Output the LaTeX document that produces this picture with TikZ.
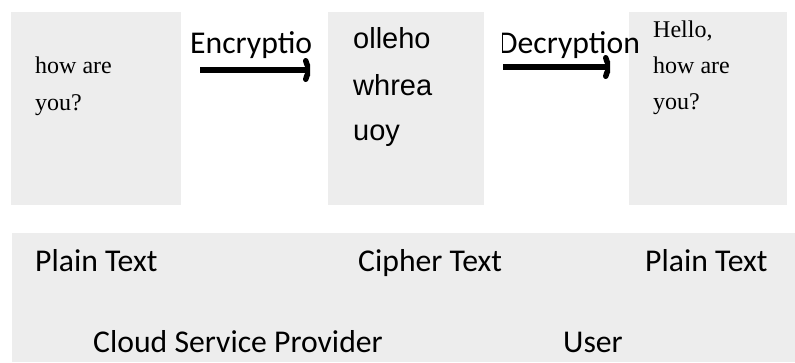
\documentclass[tikz,border=0pt]{standalone}
\usepackage{fontspec}
\setmainfont{Liberation Serif}
\newfontfamily\calfont{Carlito}
\newfontfamily\arialfont{Liberation Sans}
\usetikzlibrary{arrows.meta}
\definecolor{boxgray}{RGB}{237,237,237}

\begin{document}
\begin{tikzpicture}[x=1pt, y=-1pt,
    txt/.style={anchor=base west, inner sep=0pt},
    serifline/.style={txt, font=\fontsize{24}{24}\selectfont},
    cipherline/.style={txt, font=\arialfont\fontsize{29}{29}\selectfont},
    sanslabel/.style={txt, font=\calfont\fontsize{31.7}{31.7}\selectfont},
    flow/.style={line width=5.5pt, -{To[round,length=12pt,width=24pt]}}]
    \useasboundingbox (0,0) rectangle (795,362);

    % boxes
    \fill[boxgray] (11,12) rectangle (181,205);
    \fill[boxgray] (328,12) rectangle (484,205);
    \fill[boxgray] (629,12) rectangle (787,205);
    \fill[boxgray] (12,233) rectangle (795,362);

    % plain text (left)
    \node[serifline] (plainA2) at (35,73) {how are};
    \node[serifline] (plainA3) at (35,110) {you?};

    % cipher text
    \node[cipherline] (ciph1) at (353,48) {olleho};
    \node[cipherline] (ciph2) at (353,95) {whrea};
    \node[cipherline] (ciph3) at (353,140) {uoy};

    % plain text (right)
    \node[serifline] (plainB1) at (653,37) {Hello,};
    \node[serifline] (plainB2) at (653,73) {how are};
    \node[serifline] (plainB3) at (653,109) {you?};

    % encryption
    \coordinate (encS) at (200,70);
    \coordinate (encE) at (315,70);
    \begin{scope}
        \clip (0,0) rectangle (310,362);
        \node[sanslabel] (enc) at (190,53) {Encryption};
        \draw[flow] (encS) -- (encE);
    \end{scope}

    % decryption
    \coordinate (decS) at (503,67);
    \coordinate (decE) at (615,67);
    \begin{scope}
        \clip (502,0) rectangle (795,362);
        \node[sanslabel] (dec) at (498,53) {Decryption};
    \end{scope}
    \begin{scope}
        \clip (0,0) rectangle (610,362);
        \draw[flow] (decS) -- (decE);
    \end{scope}

    % lower panel
    \node[sanslabel] (ptL) at (35,271) {Plain Text};
    \node[sanslabel] (ct) at (358,271) {Cipher Text};
    \node[sanslabel] (ptR) at (645,271) {Plain Text};
    \node[sanslabel] (csp) at (93,352) {Cloud Service Provider};
    \node[sanslabel] (usr) at (563,352) {User};
\end{tikzpicture}
\end{document}
